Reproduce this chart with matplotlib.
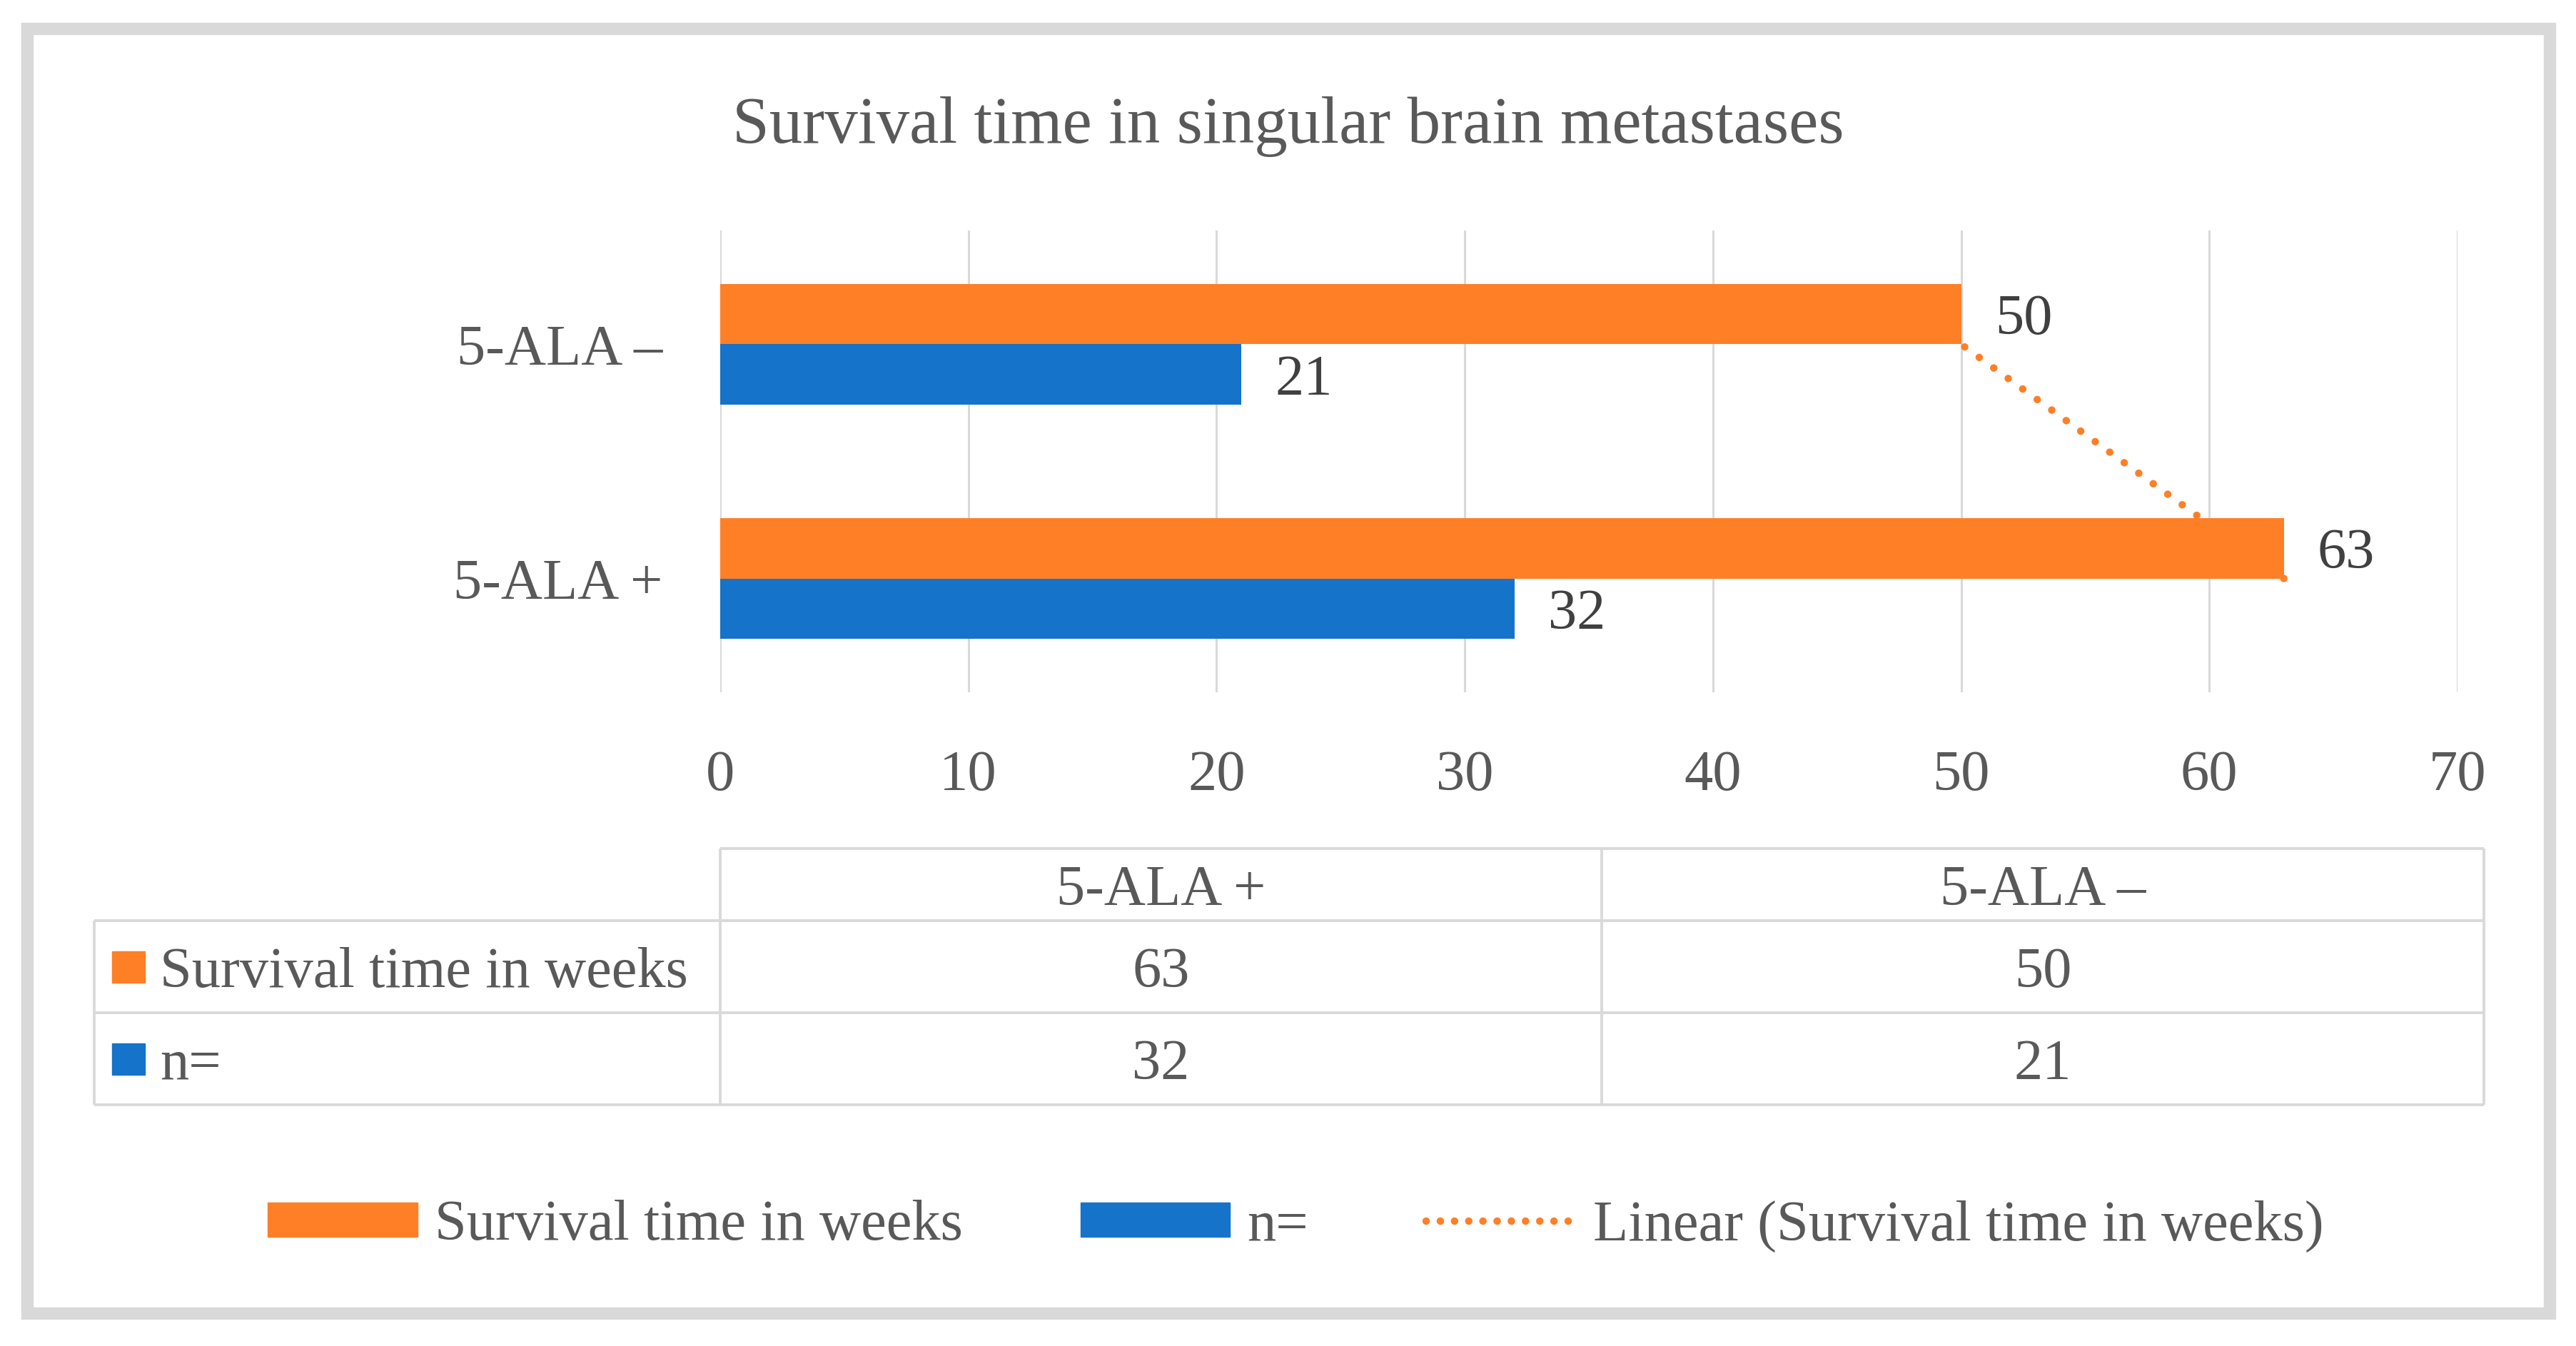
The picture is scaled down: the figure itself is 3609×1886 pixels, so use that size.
import numpy as np
import matplotlib
matplotlib.use("Agg")
import matplotlib.pyplot as plt
from matplotlib.patches import Patch, Rectangle
from matplotlib.lines import Line2D

# ---------------- data ----------------
categories = ["5-ALA +", "5-ALA \u2013"]
survival_weeks = [63, 50]
n_patients = [32, 21]
series_names = ["Survival time in weeks", "n="]
trend_name = "Linear (Survival time in weeks)"
x_ticks = [0, 10, 20, 30, 40, 50, 60, 70]
title = "Survival time in singular brain metastases"

# ---------------- style ----------------
W, H = 3609, 1886
DPI = 100
ORANGE = "#FF7F27"
BLUE = "#1573C9"
GRID = "#D9D9D9"
TXT = "#595959"
DARK = "#404040"
FS = 58
FS_TITLE = 67
plt.rcParams["font.family"] = ["Liberation Serif", "DejaVu Serif"]

fig = plt.figure(figsize=(W / DPI, H / DPI), dpi=DPI)
fig.patch.set_facecolor("white")

def fx(px):
    return px / W

def fy(py):
    return 1 - py / H

# outer frame
fig.patches.append(Rectangle((fx(38), fy(1840)), fx(3572) - fx(38), fy(40) - fy(1840),
                             transform=fig.transFigure, fill=False,
                             edgecolor=GRID, linewidth=12.5, zorder=0))

# title
fig.text(0.5, fy(168), title, ha="center", va="center_baseline", fontsize=FS_TITLE, color=TXT)

# ---------------- main axes ----------------
ax_left, ax_right, ax_top, ax_bot = 1009, 3443, 323, 970
ax = fig.add_axes([fx(ax_left), fy(ax_bot), fx(ax_right) - fx(ax_left), fy(ax_top) - fy(ax_bot)])
pos = np.arange(len(categories))
h = 0.257
b1 = ax.barh(pos + h / 2, survival_weeks, height=h, color=ORANGE, zorder=2)
b2 = ax.barh(pos - h / 2, n_patients, height=h, color=BLUE, zorder=2)
labels = ax.bar_label(b1, padding=34, fontsize=FS, color=DARK)
labels += ax.bar_label(b2, padding=34, fontsize=FS, color=DARK)
for t in labels:
    t.set_va("center_baseline")

# linear trendline of the survival series
coef = np.polyfit(pos, survival_weeks, 1)
ty = np.array([pos.min(), pos.max()], dtype=float)
tx = np.polyval(coef, ty)
ax.plot(tx, ty, color=ORANGE, linewidth=7.5, linestyle=(0, (0.01, 2.4)),
        dash_capstyle="round", zorder=3)

ax.set_xlim(0, 70)
ax.set_ylim(-0.486, 1.486)
ax.set_xticks(x_ticks)
ax.set_xticklabels([str(t) for t in x_ticks])
ax.set_yticks(pos)
ax.set_yticklabels(categories)
ax.tick_params(axis="both", length=0, labelsize=FS, colors=TXT)
ax.tick_params(axis="x", pad=58)
ax.tick_params(axis="y", pad=58)
for s in ax.spines.values():
    s.set_visible(False)
ax.xaxis.grid(True, color=GRID, linewidth=2.2)
ax.set_axisbelow(True)
ax.set_facecolor("none")

# ---------------- data table ----------------
tax = fig.add_axes([0, 0, 1, 1])
tax.set_xlim(0, W)
tax.set_ylim(H, 0)
tax.axis("off")
tax.patch.set_visible(False)

xl, x0, xm, xr = 132, 1009, 2244, 3480
y0, y1, y2, y3 = 1189, 1290, 1419, 1548
tlw = 2.8
tax.hlines(y0, x0, xr, color=GRID, lw=tlw)
tax.hlines([y1, y2, y3], xl, xr, color=GRID, lw=tlw)
tax.vlines([x0, xm, xr], y0, y3, color=GRID, lw=tlw)
tax.vlines(xl, y1, y3, color=GRID, lw=tlw)

col_centers = [(x0 + xm) / 2, (xm + xr) / 2]
row_centers = [(y1 + y2) / 2, (y2 + y3) / 2]
for cx, cat in zip(col_centers, categories):
    tax.text(cx, (y0 + y1) / 2, cat, ha="center", va="center_baseline", fontsize=FS, color=TXT)
rows = [survival_weeks, n_patients]
colors = [ORANGE, BLUE]
for ry, name, vals, c in zip(row_centers, series_names, rows, colors):
    tax.add_patch(Rectangle((157, ry - 22), 46, 44, color=c))
    tax.text(224, ry, name, ha="left", va="center_baseline", fontsize=FS, color=TXT)
    for cx, v in zip(col_centers, vals):
        tax.text(cx, ry, str(v), ha="center", va="center_baseline", fontsize=FS, color=TXT)

# ---------------- legend ----------------
handles = [Patch(color=ORANGE), Patch(color=BLUE),
           Line2D([0], [0], color=ORANGE, linewidth=7.5, linestyle=(0, (0.01, 1.9)),
                  dash_capstyle="round")]
leg = fig.legend(handles, series_names + [trend_name], loc="center",
                 bbox_to_anchor=(0.503, fy(1718)), ncol=3, frameon=False,
                 fontsize=FS, labelcolor=TXT, handlelength=2.6, handleheight=0.55,
                 handletextpad=0.3, columnspacing=2.05)

fig.savefig("out.png", dpi=DPI)
